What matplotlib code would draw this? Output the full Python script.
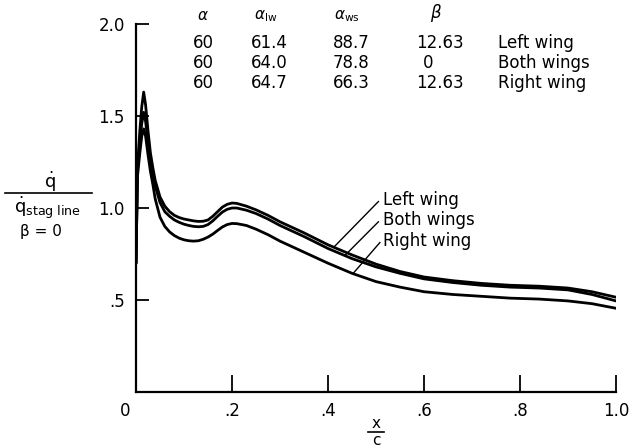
import numpy as np
import matplotlib
matplotlib.use("Agg")
import matplotlib.pyplot as plt
from matplotlib.lines import Line2D
from matplotlib.transforms import ScaledTranslation

# ---------------- data ----------------
x_c = [0, 0.003, 0.008, 0.012, 0.016, 0.020, 0.025, 0.030, 0.035, 0.040,
       0.05, 0.06, 0.07, 0.08, 0.09, 0.10, 0.11, 0.12, 0.13, 0.14,
       0.15, 0.16, 0.17, 0.18, 0.19, 0.20, 0.21, 0.23, 0.25, 0.275,
       0.30, 0.35, 0.40, 0.45, 0.50, 0.55, 0.60, 0.66, 0.72, 0.78,
       0.84, 0.90, 0.95, 1.0]

left_wing = [0.70, 1.22, 1.42, 1.55, 1.63, 1.56, 1.42, 1.30, 1.22, 1.15,
             1.06, 1.01, 0.98, 0.96, 0.948, 0.94, 0.935, 0.93, 0.927, 0.928,
             0.935, 0.955, 0.98, 1.005, 1.02, 1.027, 1.025, 1.01, 0.99, 0.96,
             0.925, 0.865, 0.80, 0.745, 0.695, 0.655, 0.625, 0.605, 0.59, 0.58,
             0.575, 0.565, 0.545, 0.515]

both_wings = [0.70, 1.20, 1.36, 1.46, 1.52, 1.47, 1.36, 1.26, 1.18, 1.12,
              1.03, 0.98, 0.955, 0.935, 0.922, 0.912, 0.905, 0.90, 0.898, 0.90,
              0.91, 0.93, 0.955, 0.978, 0.993, 1.0, 1.0, 0.988, 0.97, 0.94,
              0.905, 0.845, 0.78, 0.725, 0.68, 0.645, 0.615, 0.595, 0.58, 0.57,
              0.565, 0.555, 0.53, 0.495]

right_wing = [0.70, 1.17, 1.30, 1.39, 1.43, 1.39, 1.29, 1.20, 1.13, 1.05,
              0.95, 0.90, 0.87, 0.85, 0.836, 0.827, 0.822, 0.82, 0.822, 0.83,
              0.842, 0.858, 0.878, 0.897, 0.91, 0.916, 0.915, 0.905, 0.885, 0.855,
              0.82, 0.76, 0.70, 0.645, 0.60, 0.57, 0.545, 0.53, 0.52, 0.51,
              0.505, 0.495, 0.48, 0.455]

series_names = ["Left wing", "Both wings", "Right wing"]
table_alpha = ["60", "60", "60"]
table_alpha_lw = ["61.4", "64.0", "64.7"]
table_alpha_ws = ["88.7", "78.8", "66.3"]
table_beta = ["12.63", "0", "12.63"]

x_ticks = [0, 0.2, 0.4, 0.6, 0.8, 1.0]
x_ticklabels = ["0", ".2", ".4", ".6", ".8", "1.0"]
y_ticks = [0.5, 1.0, 1.5, 2.0]
y_ticklabels = [".5", "1.0", "1.5", "2.0"]

# ---------------- figure ----------------
W, H = 631, 448
fig = plt.figure(figsize=(W / 100, H / 100), dpi=100)
plt.rcParams['font.family'] = ['DejaVu Sans']


def fx(px):
    return px / W


def fy(py):
    return 1 - py / H


ax = fig.add_axes([fx(136), fy(392), fx(616) - fx(136), fy(24) - fy(392)])
ax.set_xlim(0, 1.0)
ax.set_ylim(0, 2.0)

for ys in (left_wing, both_wings, right_wing):
    ax.plot(x_c, ys, color="black", lw=2.0, solid_joinstyle="round",
            solid_capstyle="round")

for s in ("top", "right"):
    ax.spines[s].set_visible(False)
for s in ("left", "bottom"):
    ax.spines[s].set_linewidth(1.6)

ax.set_xticks(x_ticks)
ax.set_xticklabels(x_ticklabels, fontsize=12)
ax.set_yticks(y_ticks)
ax.set_yticklabels(y_ticklabels, fontsize=12)
ax.tick_params(axis="x", direction="in", length=12, width=1.3, pad=7)
ax.tick_params(axis="y", direction="in", length=9, width=1.3, pad=8)
lab0 = ax.get_xticklabels()[0]
lab0.set_transform(lab0.get_transform() + ScaledTranslation(-0.11, 0, fig.dpi_scale_trans))

# leader lines and labels
label_pos = [(0.515, 1.045), (0.515, 0.935), (0.515, 0.822)]
leader_x = [0.412, 0.435, 0.452]
leader_top = [(0.505, 1.035), (0.505, 0.925), (0.508, 0.812)]
for name, ys, (tx, ty), lx, (ux, uy) in zip(series_names,
                                           (left_wing, both_wings, right_wing),
                                           label_pos, leader_x, leader_top):
    ly = float(np.interp(lx, x_c, ys))
    ax.plot([lx, ux], [ly, uy], color="black", lw=1.0)
    ax.text(tx, ty, name, fontsize=12, ha="left", va="center")

# ---------------- table at top ----------------
hdr_y = fy(16)
fig.text(fx(197), hdr_y, r"$\alpha$", fontsize=11, ha="left", va="center")
fig.text(fx(254), hdr_y, r"$\alpha_{\mathrm{lw}}$", fontsize=11, ha="left", va="center")
fig.text(fx(334), hdr_y, r"$\alpha_{\mathrm{ws}}$", fontsize=11, ha="left", va="center")
fig.text(fx(436), fy(13), r"$\beta$", fontsize=12, ha="center", va="center")

row_y = [43, 63, 83]
for i, ry in enumerate(row_y):
    y = fy(ry)
    fig.text(fx(203), y, table_alpha[i], fontsize=12, ha="center", va="center")
    fig.text(fx(269), y, table_alpha_lw[i], fontsize=12, ha="center", va="center")
    fig.text(fx(351), y, table_alpha_ws[i], fontsize=12, ha="center", va="center")
    if table_beta[i] == "0":
        fig.text(fx(428), y, table_beta[i], fontsize=12, ha="center", va="center")
    else:
        fig.text(fx(440), y, table_beta[i], fontsize=12, ha="center", va="center")
    fig.text(fx(498), y, series_names[i], fontsize=12, ha="left", va="center")

# ---------------- y label (fraction) ----------------
fig.text(fx(50), fy(182), r"$\dot{\mathrm{q}}$", fontsize=13, ha="center", va="center")
fig.add_artist(Line2D([fx(5), fx(92)], [fy(193), fy(193)], color="black", lw=1.2,
                      transform=fig.transFigure))
fig.text(fx(48), fy(208), r"$\dot{\mathrm{q}}_{\mathrm{stag\ line}}$", fontsize=13,
         ha="center", va="center")
fig.text(fx(41), fy(231), "β = 0", fontsize=11, ha="center", va="center")

# ---------------- x label (fraction) ----------------
fig.text(fx(376), fy(423), "x", fontsize=11, ha="center", va="center")
fig.add_artist(Line2D([fx(368), fx(384)], [fy(432), fy(432)], color="black", lw=1.2,
                      transform=fig.transFigure))
fig.text(fx(376), fy(440), "c", fontsize=11, ha="center", va="center")

fig.savefig("out.png", dpi=100)
